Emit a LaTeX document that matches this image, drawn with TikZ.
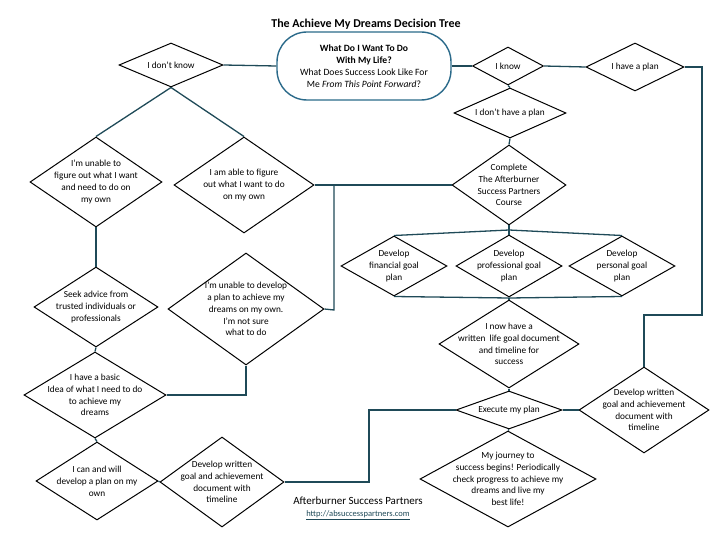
\documentclass[tikz,border=0pt]{standalone}
\usepackage{fontspec}
\setmainfont{Carlito}
\usetikzlibrary{shapes.geometric}
\definecolor{ln}{HTML}{1F4A58}
\definecolor{ov}{HTML}{2B6A8A}
\tikzset{
 diam/.style={diamond,draw=black,line width=1pt,inner sep=0pt,fill=white},
 txt/.style={align=center,font=\fontsize{9.3}{11.8}\selectfont,inner sep=0pt},
 conn/.style={draw=ln,line width=1.3pt},
}
\newcommand{\dia}[6]{\node[diam,minimum width=#4pt,minimum height=#5pt] (#1) at (#2,#3) {};
 \node[txt] (#1t) at (#1) {#6};}
\begin{document}
\begin{tikzpicture}[x=1pt,y=-1pt]
\useasboundingbox (0,0) rectangle (720,540);
\fill[white] (0,0) rectangle (720,540);
\coordinate (r1) at (702,67);
\coordinate (r2) at (702,315);
\coordinate (r3) at (644,315);
\coordinate (a1) at (334,185);
\coordinate (a2) at (334,310);
\coordinate (b1) at (246,395);
\coordinate (c1) at (369,482);
\coordinate (c2) at (369,410);
\coordinate (f0) at (509,230);
\coordinate (g0) at (509,298);

\node[draw=ov,line width=1.4pt,rounded corners=30pt,minimum width=174pt,minimum height=68pt,fill=white] (q) at (364,66) {};
\node[txt,font=\fontsize{9.6}{12.2}\selectfont] (qt) at (q) {\textbf{What Do I Want To Do}\\\textbf{With My Life?}\\What Does Success Look Like For\\Me \textit{From This Point Forward}?};

\dia{dk}{171}{65}{104}{44}{I don't know}
\dia{kn}{508}{66}{71}{38}{I know}
\dia{hp}{635}{67}{98}{48}{I have a plan}
\dia{dhp}{510}{113}{112}{50}{I don't have a plan}
\dia{cmp}{509}{185}{114}{80}{Complete\\The Afterburner\\Success Partners\\Course}
\dia{fin}{394}{266}{106}{60}{Develop\\financial goal\\plan}
\dia{pro}{509}{266}{106}{62}{Develop\\professional goal\\plan}
\dia{per}{622}{266}{106}{60}{Develop\\personal goal\\plan}
\dia{now}{509}{344}{140}{88}{I now have a\\written\ \ life goal document\\and timeline for\\success}
\dia{ex}{509}{410}{106}{38}{Execute my plan}
\dia{jo}{508}{479}{176}{96}{My journey to\\success begins! Periodically\\check progress to achieve my\\dreams and live my\\best life!}
\dia{dwr}{644}{410}{130}{86}{Develop written\\goal and achievement\\document with\\timeline}
\dia{un}{96}{182}{132}{90}{I'm unable to\\figure out what I want\\and need to do on\\my own}
\dia{ab}{244}{185}{140}{96}{I am able to figure\\out what I want to do\\on my own}
\dia{ud}{246}{309}{156}{112}{I'm unable to develop\\a plan to achieve my\\dreams on my own.\\I'm not sure\\what to do}
\dia{sk}{96}{307}{124}{80}{Seek advice from\\trusted individuals or\\professionals}
\dia{ba}{95}{395}{142}{86}{I have a basic\\Idea of what I need to do\\to achieve my\\dreams}
\dia{cw}{97}{481}{122}{78}{I can and will\\develop a plan on my\\own}
\dia{dwl}{222}{482}{124}{90}{Develop written\\goal and achievement\\document with\\timeline}

\draw[conn] (q.west) -- (dk.east);
\draw[conn] (q.east) -- (kn.west);
\draw[conn] (kn.east) -- (hp.west);
\draw[conn] (hp.east) -- (r1) -- (r2) -- (r3) -- (dwr.north);
\draw[conn] (kn.south) -- (dhp.north);
\draw[conn] (dhp.south) -- (cmp.north);
\draw[conn] (cmp.south) -- (f0);
\draw[conn] (fin.north) -- (f0) -- (per.north);
\draw[conn] (f0) -- (pro.north);
\draw[conn] (fin.south) -- (g0) -- (per.south);
\draw[conn] (pro.south) -- (g0) -- (now.north);
\draw[conn] (now.south) -- (ex.north);
\draw[conn] (ex.south) -- (jo.north);
\draw[conn] (ex.east) -- (dwr.west);
\draw[conn] (dk.south) -- (un.north);
\draw[conn] (dk.south) -- (ab.north);
\draw[conn] (ab.east) -- (cmp.west);
\draw[conn] (a1) -- (a2) -- (ud.east);
\draw[conn] (un.south) -- (sk.north);
\draw[conn] (sk.south) -- (ba.north);
\draw[conn] (ud.south) -- (b1) -- (ba.east);
\draw[conn] (ba.south) -- (cw.north);
\draw[conn] (cw.east) -- (dwl.west);
\draw[conn] (dwl.east) -- (c1) -- (c2) -- (ex.west);

\node[font=\fontsize{12}{14}\selectfont\bfseries] (title) at (366,24) {The Achieve My Dreams Decision Tree};
\node[font=\fontsize{11}{13}\selectfont] (ft) at (358,501) {Afterburner Success Partners};
\node[font=\fontsize{8.5}{10}\selectfont,text=ln] (url) at (358,515) {\underline{http://absuccesspartners.com}};
\end{tikzpicture}
\end{document}
